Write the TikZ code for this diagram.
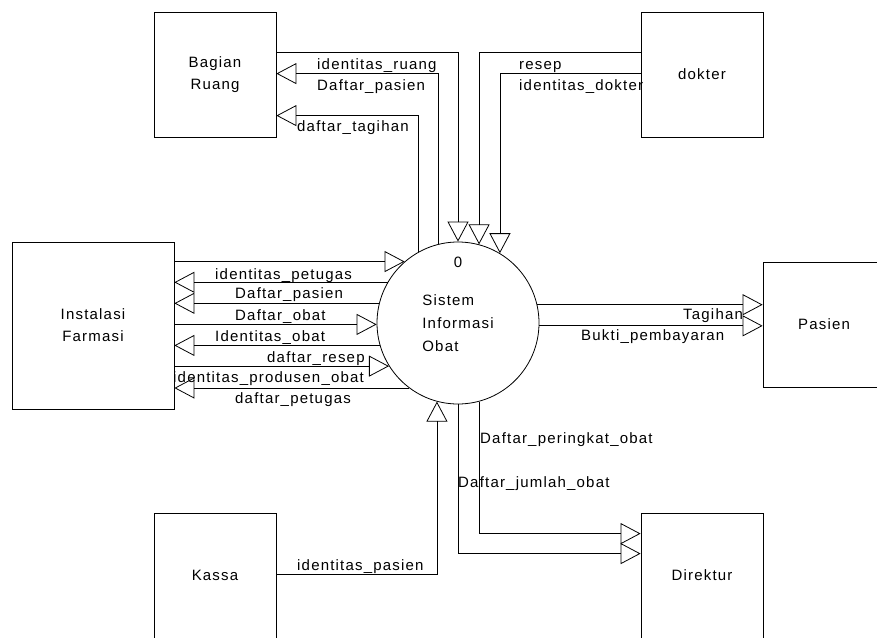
\documentclass[tikz,border=0pt]{standalone}
\usepackage{fontspec}
\setmainfont{Liberation Sans}[LetterSpace=8]
\usetikzlibrary{arrows.meta}
\begin{document}
\begin{tikzpicture}[x=1pt,y=-1pt,
  every node/.style={font=\fontsize{15}{22}\selectfont},
  ent/.style={draw, line width=0.8pt, inner sep=0pt, minimum width=122pt, minimum height=125pt, align=center},
  proc/.style={draw, circle, line width=0.8pt, inner sep=0pt, minimum size=162pt, align=left, font=\fontsize{15}{23}\selectfont},
  flow/.style={draw, line width=0.8pt, -{Triangle[open,length=20pt,width=21pt]}},
  lbl/.style={anchor=base west, inner sep=0pt}]
\clip (0,0) rectangle (877,637);
\fill[white] (0,0) rectangle (877,637);

% entities
\node[ent] (bag) at (215,74.5) {Bagian\\Ruang};
\node[ent] (dok) at (702,74.5) {dokter};
\node[ent, minimum width=162pt, minimum height=167pt] (inst) at (93,325.5) {Instalasi\\Farmasi};
\node[ent] (pas) at (824,324.5) {Pasien};
\node[ent] (kas) at (215,575.5) {Kassa};
\node[ent] (dir) at (702,575.5) {Direktur};

% process
\node[proc] (circ) at (458,323) {Sistem\\Informasi\\Obat};
\node[anchor=base, inner sep=0pt] (num) at (458,267) {0};

% Bagian Ruang flows
\draw[flow] ([yshift=-41pt]bag.north east) -| (circ.90);
\draw[flow] (circ.104.3) |- ([yshift=-62pt]bag.north east);
\draw[flow] (circ.119.6) |- ([yshift=-104pt]bag.north east);

% dokter flows
\draw[flow] ([yshift=-41pt]dok.north west) -| (circ.75.7);
\draw[flow] ([yshift=-62pt]dok.north west) -| (circ.59.6);

% Instalasi Farmasi flows
\draw[flow] (circ.131.1 -| inst.east) -- (circ.131.1);
\draw[flow] (circ.150.4) -- (circ.150.4 -| inst.east);
\draw[flow] (circ.166.4) -- (circ.166.4 -| inst.east);
\draw[flow] (circ.181.4 -| inst.east) -- (circ.181.4);
\draw[flow] (circ.196.5) -- (circ.196.5 -| inst.east);
\draw[flow] (circ.212.1 -| inst.east) -- (circ.212.1);
\draw[flow] (circ.233.4) -- (circ.233.4 -| inst.east);

% Pasien flows
\draw[flow] (circ.13.6) -- (circ.13.6 -| pas.west);
\draw[flow] (circ.358.6) -- (circ.358.6 -| pas.west);

% Direktur flows
\draw[flow] (circ.285) |- ([yshift=-21pt]dir.north west);
\draw[flow] (circ.270) |- ([yshift=-41pt]dir.north west);

% Kassa flow
\draw[flow] ([yshift=-62pt]kas.north east) -| (circ.255.7);

% labels
\node[lbl] (t1) at (317,69) {identitas\_ruang};
\node[lbl] (t2) at (317,90) {Daftar\_pasien};
\node[lbl] (t3) at (297,131) {daftar\_tagihan};
\node[lbl] (t4) at (519,69) {resep};
\node[lbl] (t5) at (519,90) {identitas\_dokter};
\node[lbl] (t6) at (215,279) {identitas\_petugas};
\node[lbl] (t7) at (235,298) {Daftar\_pasien};
\node[lbl] (t8) at (235,320) {Daftar\_obat};
\node[lbl] (t9) at (215,341) {Identitas\_obat};
\node[lbl] (t10) at (267,362) {daftar\_resep};
\node[lbl] (t11) at (173,382) {identitas\_produsen\_obat};
\node[lbl] (t12) at (235,403) {daftar\_petugas};
\node[lbl] (t13) at (683,319) {Tagihan};
\node[lbl] (t14) at (581,340) {Bukti\_pembayaran};
\node[lbl] (t15) at (480,443) {Daftar\_peringkat\_obat};
\node[lbl] (t16) at (458,487) {Daftar\_jumlah\_obat};
\node[lbl] (t17) at (297,570) {identitas\_pasien};
\end{tikzpicture}
\end{document}
